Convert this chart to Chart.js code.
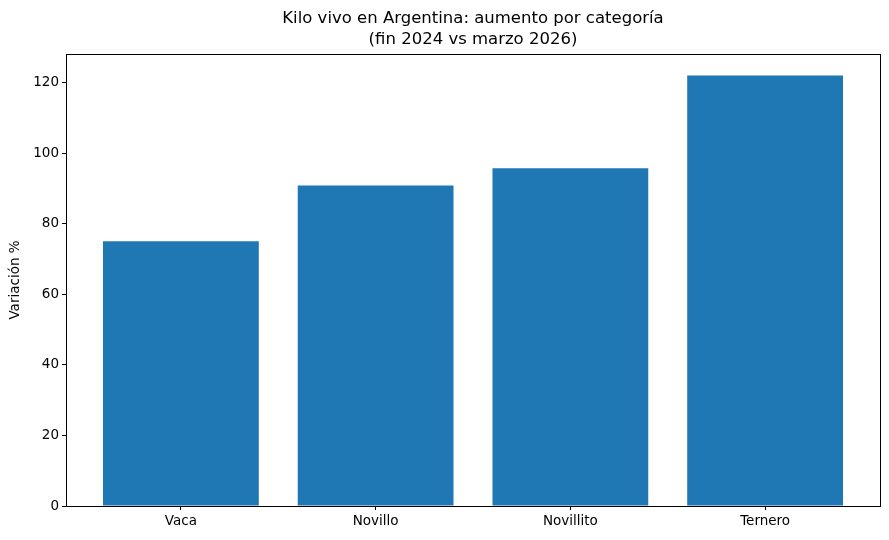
<!DOCTYPE html>
<html>
<head>
<meta charset="utf-8">
<script src="https://cdn.jsdelivr.net/npm/chart.js@4/dist/chart.umd.min.js"></script>
<style>
html,body{margin:0;padding:0;background:#fff;}
#wrap{width:889px;height:540px;}
</style>
</head>
<body>
<div id="wrap"><canvas id="c" width="889" height="540"></canvas></div>
<script>
const categories = ["Vaca", "Novillo", "Novillito", "Ternero"];
const values = [75.1, 90.9, 95.8, 122.1];
const yTicks = [0, 20, 40, 60, 80, 100, 120];
const titleLines = ["Kilo vivo en Argentina: aumento por categoría", "(fin 2024 vs marzo 2026)"];
const yLabel = "Variación %";

const FONT = "'DejaVu Sans', sans-serif";

const framePlugin = {
  id: 'frame',
  afterDraw(chart) {
    const {ctx, chartArea: a} = chart;
    ctx.save();
    ctx.strokeStyle = '#000';
    ctx.lineWidth = 1;
    ctx.strokeRect(Math.round(a.left) + 0.5, Math.round(a.top) + 0.5, Math.round(a.right - a.left), Math.round(a.bottom - a.top));
    ctx.fillStyle = '#000';
    ctx.font = "16.5px " + FONT;
    ctx.textAlign = 'center';
    ctx.textBaseline = 'middle';
    const cx = (a.left + a.right) / 2;
    ctx.fillText(titleLines[0], cx, 19);
    ctx.fillText(titleLines[1], cx, 40);
    ctx.restore();
  }
};

new Chart(document.getElementById('c'), {
  type: 'bar',
  data: {
    datasets: [{
      data: categories.map((c, i) => ({x: i, y: values[i]})),
      backgroundColor: '#1f77b4',
      borderWidth: 0,
      inflateAmount: 0,
      categoryPercentage: 0.8,
      barPercentage: 1.0
    }]
  },
  options: {
    responsive: false,
    animation: false,
    layout: {padding: {top: 54, right: 9, left: 0, bottom: 0}},
    plugins: {legend: {display: false}, tooltip: {enabled: false}, title: {display: false}},
    scales: {
      x: {
        type: 'linear',
        offset: false,
        min: -0.59,
        max: 3.59,
        afterBuildTicks(scale) { scale.ticks = categories.map((c, i) => ({value: i})); },
        afterFit(scale) { scale.height = 34; },
        ticks: {
          callback: (v) => categories[v],
          color: '#000',
          font: {family: FONT, size: 13.5},
          padding: 3,
          maxRotation: 0,
          autoSkip: false
        },
        grid: {offset: false, drawOnChartArea: false, tickLength: 4, color: '#000', tickWidth: 1},
        border: {display: true, color: '#000', width: 1}
      },
      y: {
        min: 0,
        max: 128.2,
        afterBuildTicks(scale) { scale.ticks = yTicks.map(v => ({value: v})); },
        afterFit(scale) { scale.width = 66; },
        ticks: {
          color: '#000',
          font: {family: FONT, size: 13.5},
          padding: 3
        },
        grid: {drawOnChartArea: false, tickLength: 4, color: '#000', tickWidth: 1},
        border: {display: true, color: '#000', width: 1},
        title: {
          display: true,
          text: yLabel,
          color: '#000',
          font: {family: FONT, size: 13.5},
          padding: {top: 7, bottom: 0}
        }
      }
    }
  },
  plugins: [framePlugin]
});
</script>
</body>
</html>
